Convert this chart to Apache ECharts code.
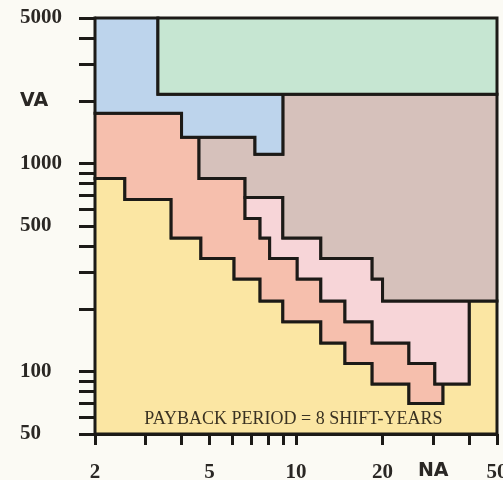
<!DOCTYPE html>
<html>
<head>
<meta charset="utf-8">
<script src="https://cdn.jsdelivr.net/npm/echarts@6/dist/echarts.min.js"></script>
<style>
  html, body { margin: 0; padding: 0; background: #fbfaf4; }
  #chart { width: 503px; height: 480px; }
</style>
</head>
<body>
<div id="chart"></div>
<script>
// Axis ticks and their printed labels
const xTicks = [2, 3, 4, 5, 6, 7, 8, 9, 10, 20, 30, 40, 50];
const xLabelValues = [2, 5, 10, 20, 30, 50];
const xLabelText = { 2: '2', 5: '5', 10: '10', 20: '20', 30: 'NA', 50: '50' };
const yTicks = [50, 60, 70, 80, 90, 100, 200, 300, 400, 500, 600, 700, 800, 900,
                1000, 2000, 3000, 4000, 5000];
const yLabelValues = [50, 100, 500, 1000, 2000, 5000];
const yLabelText = { 50: '50', 100: '100', 500: '500', 1000: '1000', 2000: 'VA', 5000: '5000' };

// Staircase boundaries between zones, as [x, y] corners from left to right
const greenEdge  = [[3.31, 5000], [3.31, 2150], [50, 2150]];
const blueEdge   = [[2, 1742], [4, 1742], [4, 1335], [7.2, 1335], [7.2, 1106], [9, 1106], [9, 2150]];
const taupeEdge  = [[4.6, 1335], [4.6, 847], [6.65, 847], [6.65, 686], [9, 686], [9, 438],
                    [12.2, 438], [12.2, 349], [18.4, 349], [18.4, 278], [20, 278], [20, 218], [50, 218]];
const pinkEdge   = [[6.65, 686], [6.65, 543], [7.5, 543], [7.5, 438], [8.1, 438], [8.1, 349],
                    [10.1, 349], [10.1, 278], [12.2, 278], [12.2, 218], [14.8, 218], [14.8, 173],
                    [18.4, 173], [18.4, 137], [24.7, 137], [24.7, 109], [30.4, 109], [30.4, 87]];
const yellowEdge = [[2, 847], [2.54, 847], [2.54, 671], [3.68, 671], [3.68, 438], [4.67, 438],
                    [4.67, 349], [6.09, 349], [6.09, 278], [7.5, 278], [7.5, 218], [9, 218],
                    [9, 173], [12.2, 173], [12.2, 137], [14.8, 137], [14.8, 109], [18.4, 109],
                    [18.4, 87], [24.7, 87], [24.7, 70], [32.4, 70], [32.4, 87]];
const pinkOuter  = [[30.4, 87], [40, 87], [40, 218]];

// Frame corners
const X_MIN = 2, X_MAX = 50, Y_MIN = 50, Y_MAX = 5000;

const zoneColors = {
  yellow: '#fbe6a3',
  salmon: '#f6bfad',
  pink:   '#f7d5d8',
  taupe:  '#d6c1bb',
  blue:   '#bdd4ec',
  green:  '#c6e6d2'
};

const rev = a => a.slice().reverse();

// Zone outlines assembled from the shared boundaries
const zones = [
  { color: zoneColors.yellow,
    pts: [[X_MIN, Y_MIN], ...yellowEdge, ...pinkOuter.slice(1), [X_MAX, 218], [X_MAX, Y_MIN]] },
  { color: zoneColors.salmon,
    pts: [...blueEdge.slice(0, 3), ...taupeEdge.slice(0, 4), ...pinkEdge.slice(1), ...rev(yellowEdge)] },
  { color: zoneColors.pink,
    pts: [...taupeEdge.slice(3, taupeEdge.length - 1), ...rev(pinkOuter), ...rev(pinkEdge).slice(1)] },
  { color: zoneColors.taupe,
    pts: [taupeEdge[0], ...blueEdge.slice(3), [X_MAX, 2150], [X_MAX, 218], ...rev(taupeEdge).slice(1)] },
  { color: zoneColors.blue,
    pts: [[X_MIN, Y_MAX], ...greenEdge.slice(0, 2), ...rev(blueEdge)] },
  { color: zoneColors.green,
    pts: [...greenEdge, [X_MAX, Y_MAX]] }
];

const noteText = 'PAYBACK PERIOD = 8 SHIFT-YEARS';
const notePos = [9.8, 59];

const ink = '#1c1a17';
const labelInk = '#2a2724';

const chart = echarts.init(document.getElementById('chart'), null, { renderer: 'canvas' });

chart.setOption({
  backgroundColor: '#fbfaf4',
  animation: false,
  grid: { left: 95, right: 6, top: 18, bottom: 46, outerBoundsMode: 'none' },
  xAxis: {
    type: 'log', logBase: 10, min: X_MIN, max: X_MAX,
    axisLine: { lineStyle: { color: ink, width: 3 } },
    axisTick: { customValues: xTicks, length: 11, lineStyle: { color: ink, width: 3 } },
    minorTick: { show: false },
    splitLine: { show: false },
    axisLabel: {
      customValues: xLabelValues,
      margin: 28,
      color: labelInk,
      fontFamily: 'Liberation Serif',
      fontWeight: 'bold',
      fontSize: 21,
      formatter: v => {
        const t = xLabelText[Math.round(v)];
        return t === 'NA' ? '{s|NA}' : t;
      },
      rich: { s: { fontFamily: 'DejaVu Sans', fontWeight: 'bold', fontSize: 19, color: labelInk } }
    }
  },
  yAxis: {
    type: 'log', logBase: 10, min: Y_MIN, max: Y_MAX,
    axisLine: { lineStyle: { color: ink, width: 3 } },
    axisTick: { customValues: yTicks, length: 16, lineStyle: { color: ink, width: 3 } },
    minorTick: { show: false },
    splitLine: { show: false },
    axisLabel: {
      customValues: yLabelValues,
      margin: 75,
      align: 'left',
      color: labelInk,
      fontFamily: 'Liberation Serif',
      fontWeight: 'bold',
      fontSize: 21,
      formatter: v => {
        const t = yLabelText[Math.round(v)];
        return t === 'VA' ? '{s|VA}' : t;
      },
      rich: { s: { fontFamily: 'DejaVu Sans', fontWeight: 'bold', fontSize: 19, color: labelInk } }
    }
  },
  series: [
    {
      type: 'custom',
      coordinateSystem: 'cartesian2d',
      silent: true,
      clip: false,
      data: zones.map((z, i) => [z.pts[0][0], z.pts[0][1], i]),
      renderItem: (params, api) => {
        const z = zones[params.dataIndex];
        return {
          type: 'polygon',
          shape: { points: z.pts.map(p => api.coord(p)) },
          style: { fill: z.color, stroke: ink, lineWidth: 3, lineJoin: 'miter' }
        };
      }
    },
    {
      type: 'custom',
      coordinateSystem: 'cartesian2d',
      silent: true,
      z: 5,
      data: [notePos],
      renderItem: (params, api) => {
        const p = api.coord([api.value(0), api.value(1)]);
        return {
          type: 'text',
          x: p[0], y: p[1],
          style: {
            text: noteText,
            align: 'center', verticalAlign: 'middle',
            fill: '#3a3222',
            font: '18px "Liberation Serif"'
          }
        };
      }
    }
  ]
});
</script>
</body>
</html>
